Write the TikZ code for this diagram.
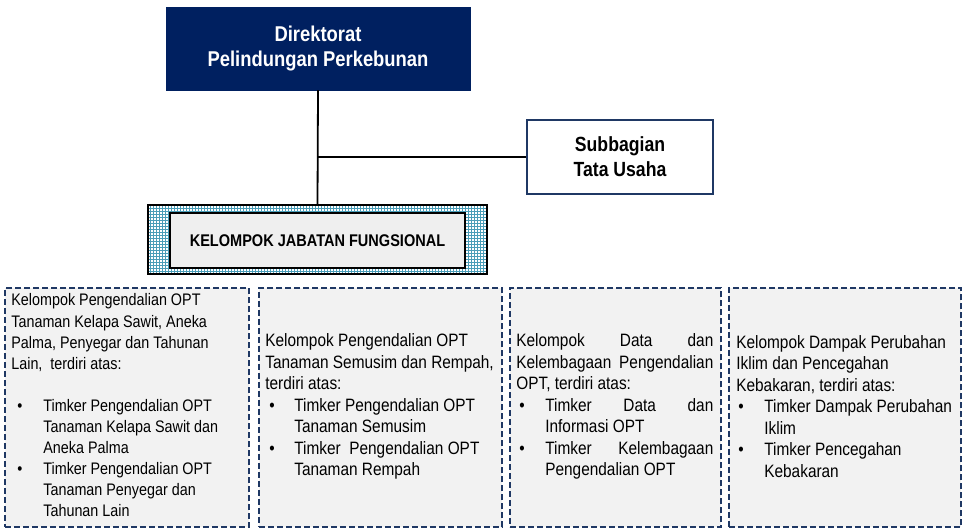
\documentclass[tikz,border=0pt]{standalone}
\usepackage{fontspec}
\setmainfont[FakeStretch=0.86]{Liberation Sans}
\usetikzlibrary{patterns}
\definecolor{navy}{HTML}{002060}
\definecolor{dashnavy}{HTML}{1F3864}
\definecolor{boxgray}{HTML}{F2F2F2}
\definecolor{innergray}{HTML}{EFEFEF}
\definecolor{gridteal}{HTML}{4A9DB8}
\newlength{\bind}\newlength{\boff}
\newcommand{\itm}[1]{\makebox[\bind][l]{\hspace{\boff}\textbullet}#1}
\newcommand{\cnt}[1]{\hspace*{\bind}#1}
\newcommand{\setbul}[2]{\global\bind=#1\relax\global\boff=#2\relax}
\tikzset{
  topbox/.style={draw=navy, fill=navy, text=white, align=center, inner sep=0pt,
    font=\fontsize{21.4}{25}\selectfont\bfseries},
  subbox/.style={draw=dashnavy, line width=1.6pt, fill=white, align=center, inner sep=0pt,
    font=\fontsize{20.5}{25}\selectfont\bfseries},
  gridbox/.style={draw=black, line width=1.6pt, preaction={fill=white},
    pattern=grid, pattern color=gridteal, inner sep=0pt},
  innerbox/.style={draw=black, line width=2.2pt, fill=innergray, inner sep=0pt,
    font=\fontsize{16.9}{20}\selectfont\bfseries},
  grpbox/.style={draw=dashnavy, line width=1.7pt, dash pattern=on 6pt off 3pt,
    fill=boxgray, inner sep=0pt, minimum height=239pt},
  grptext/.style={anchor=west, align=left, inner sep=0pt,
    font=\fontsize{17.9}{21.5}\selectfont},
  conn/.style={draw=black, line width=1.8pt}
}
\begin{document}
\begin{tikzpicture}[x=1pt,y=-1pt]
\useasboundingbox (0,0) rectangle (963,529);
\node[topbox, minimum width=304pt, minimum height=83pt] (dir) at (318,48.5)
  {Direktorat\\Pelindungan Perkebunan};
\node[subbox, minimum width=186pt, minimum height=74pt] (sub) at (620,157)
  {Subbagian\\Tata Usaha};
\node[gridbox, minimum width=339pt, minimum height=69pt] (kjfo) at (317.5,239.5) {};
\node[innerbox, minimum width=295pt, minimum height=55pt] (kjf) at (317.5,240.5)
  {KELOMPOK JABATAN FUNGSIONAL};
\coordinate (j) at (dir.south |- sub.west);
\draw[conn] (dir.south) -- (kjfo.north);
\draw[conn] (j) -- (sub.west);
% group boxes
\node[grpbox, minimum width=244pt] (g1) at (127,407.5) {};
\node[grpbox, minimum width=243pt] (g2) at (380.5,407.5) {};
\node[grpbox, minimum width=211pt] (g3) at (615.5,407.5) {};
\node[grpbox, minimum width=232pt] (g4) at (845,407.5) {};
\setbul{32pt}{6pt}
\node[grptext, font=\fontsize{16.7}{21.1}\selectfont] (t1) at ([xshift=7pt,yshift=2pt]g1.west)
  {Kelompok Pengendalian OPT\\
   Tanaman Kelapa Sawit, Aneka\\
   Palma, Penyegar dan Tahunan\\
   Lain,\ \ terdiri atas:\\[21.1pt]
   \itm{Timker Pengendalian OPT}\\
   \cnt{Tanaman Kelapa Sawit dan}\\
   \cnt{Aneka Palma}\\
   \itm{Timker Pengendalian OPT}\\
   \cnt{Tanaman Penyegar dan}\\
   \cnt{Tahunan Lain}};
\setbul{29pt}{4pt}
\node[grptext] (t2) at ([xshift=7pt,yshift=1pt]g2.west)
  {Kelompok Pengendalian OPT\\
   Tanaman Semusim dan Rempah,\\
   terdiri atas:\\
   \itm{Timker Pengendalian OPT}\\
   \cnt{Tanaman Semusim}\\
   \itm{Timker\ \ Pengendalian OPT}\\
   \cnt{Tanaman Rempah}};
\setbul{29pt}{3pt}
\node[grptext] (t3) at ([xshift=7pt,yshift=1pt]g3.west)
  {\makebox[197pt][s]{Kelompok\hfill Data\hfill dan}\\
   \makebox[197pt][s]{Kelembagaan\hfill Pengendalian}\\
   OPT, terdiri atas:\\
   \itm{\makebox[168pt][s]{Timker\hfill Data\hfill dan}}\\
   \cnt{Informasi OPT}\\
   \itm{\makebox[168pt][s]{Timker\hfill Kelembagaan}}\\
   \cnt{Pengendalian OPT}};
\setbul{28pt}{2pt}
\node[grptext] (t4) at ([xshift=8pt,yshift=1pt]g4.west)
  {Kelompok Dampak Perubahan\\
   Iklim dan Pencegahan\\
   Kebakaran, terdiri atas:\\
   \itm{Timker Dampak Perubahan}\\
   \cnt{Iklim}\\
   \itm{Timker Pencegahan}\\
   \cnt{Kebakaran}};
\end{tikzpicture}
\end{document}
